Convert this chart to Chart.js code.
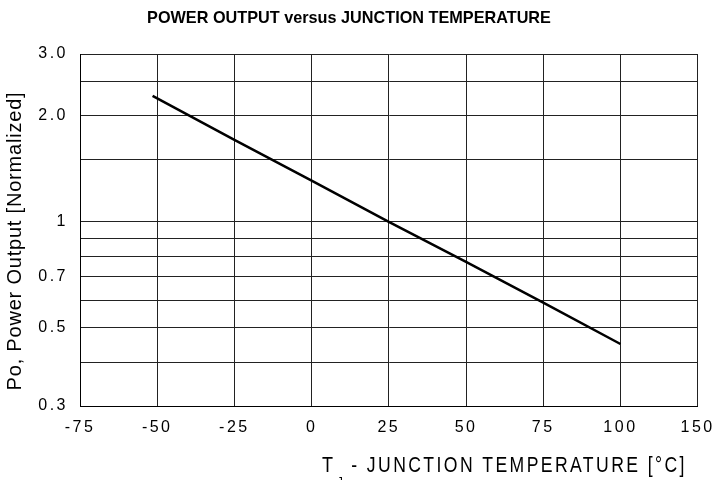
<!DOCTYPE html>
<html><head><meta charset="utf-8">
<script src="https://cdn.jsdelivr.net/npm/chart.js@4/dist/chart.umd.min.js"></script>
<style>html,body{margin:0;padding:0;background:#fff}#wrap{width:723px;height:480px}</style>
</head><body><div id="wrap"><canvas id="c" width="723" height="480"></canvas></div>
<script>
const chartTitle = 'POWER OUTPUT versus JUNCTION TEMPERATURE';
const xTitleMain = 'T';
const xTitleSub = 'J';
const xTitleRest = ' - JUNCTION TEMPERATURE [°C]';
const yTitle = 'Po, Power Output [Normalized]';
const temperatures = [-51.5, -25, 0, 25, 50, 75, 100];
const powerOutput = [2.28, 1.71, 1.31, 1.0, 0.77, 0.59, 0.45];
const xTickValues = [-75, -50, -25, 0, 25, 50, 75, 100, 125];
const xTickLabels = ['-75', '-50', '-25', '0', '25', '50', '75', '100', '150'];
const yGridValues = [0.3, 0.4, 0.5, 0.6, 0.7, 0.8, 0.9, 1, 1.5, 2, 2.5, 3];
const yLabelValues = [0.3, 0.5, 0.7, 1, 2, 3];
const yLabelTexts = ['0.3', '0.5', '0.7', '1', '2.0', '3.0'];

const FAM = '"Liberation Sans", Arial, Helvetica, sans-serif';

function yLabel(v) {
  const i = yLabelValues.findIndex(t => Math.abs(t - v) < 1e-6);
  return i >= 0 ? yLabelTexts[i] : '';
}
function xLabel(v) {
  const i = xTickValues.findIndex(t => Math.abs(t - v) < 1e-6);
  return i >= 0 ? xTickLabels[i] : '';
}

const spacingPlugin = {
  id: 'tickSpacing',
  beforeDraw(chart) {
    ['x', 'y'].forEach(id => {
      const s = chart.scales[id];
      if (s && !s._spWrapped) {
        const orig = s.drawLabels;
        s.drawLabels = function (a) {
          const c = this.ctx; c.save(); c.letterSpacing = '2.5px'; orig.call(this, a); c.restore();
        };
        s._spWrapped = true;
      }
    });
  }
};

function condensedText(ctx, text, x, y, sx) {
  ctx.save();
  ctx.translate(x, y);
  ctx.scale(sx, 1);
  ctx.fillText(text, 0, 0);
  ctx.restore();
}

const titlePlugin = {
  id: 'titles',
  afterDraw(chart) {
    const ctx = chart.ctx;
    ctx.save();
    ctx.fillStyle = '#000';
    ctx.font = 'bold 17px ' + FAM;
    ctx.textAlign = 'center'; ctx.textBaseline = 'middle';
    condensedText(ctx, chartTitle, 349, 18, 0.955);

    ctx.textAlign = 'left'; ctx.textBaseline = 'alphabetic';
    ctx.letterSpacing = '3px';
    ctx.font = '22px ' + FAM;
    condensedText(ctx, xTitleMain, 322, 472, 0.82);
    ctx.font = '13px ' + FAM;
    condensedText(ctx, xTitleSub, 337, 486, 0.9);
    ctx.font = '22px ' + FAM;
    condensedText(ctx, xTitleRest, 344, 472, 0.8);
    ctx.restore();

    ctx.save();
    ctx.fillStyle = '#000';
    ctx.translate(21, 241);
    ctx.rotate(-Math.PI / 2);
    ctx.font = '20px ' + FAM;
    ctx.letterSpacing = '0.8px';
    ctx.textAlign = 'center'; ctx.textBaseline = 'alphabetic';
    ctx.fillText(yTitle, 0, 0);
    ctx.restore();
  }
};

new Chart(document.getElementById('c'), {
  type: 'line',
  data: {
    datasets: [{
      data: temperatures.map((x, i) => ({ x: x, y: powerOutput[i] })),
      borderColor: '#000', borderWidth: 2.5, pointRadius: 0, tension: 0, fill: false
    }]
  },
  options: {
    responsive: false, animation: false, devicePixelRatio: 1,
    layout: { padding: { top: 54, right: 21, left: 0, bottom: 0 } },
    plugins: { legend: { display: false }, title: { display: false }, tooltip: { enabled: false } },
    scales: {
      x: {
        type: 'linear', min: -75, max: 125,
        afterBuildTicks: s => { s.ticks = xTickValues.map(v => ({ value: v })); },
        afterFit: s => { s.height = 74; },
        ticks: { callback: v => xLabel(v), font: { size: 16, family: FAM }, color: '#000', padding: 12, maxRotation: 0, autoSkip: false },
        grid: { color: '#222', lineWidth: 1, drawTicks: false },
        border: { color: '#000', width: 1 }
      },
      y: {
        type: 'logarithmic', min: 0.3, max: 3,
        afterBuildTicks: s => { s.ticks = yGridValues.map(v => ({ value: v })); },
        afterFit: s => { s.width = 80; },
        ticks: { callback: v => yLabel(v), font: { size: 16, family: FAM }, color: '#000', padding: 12, autoSkip: false },
        grid: { color: '#222', lineWidth: 1, drawTicks: false },
        border: { color: '#000', width: 1 }
      }
    }
  },
  plugins: [spacingPlugin, titlePlugin]
});
</script></body></html>
